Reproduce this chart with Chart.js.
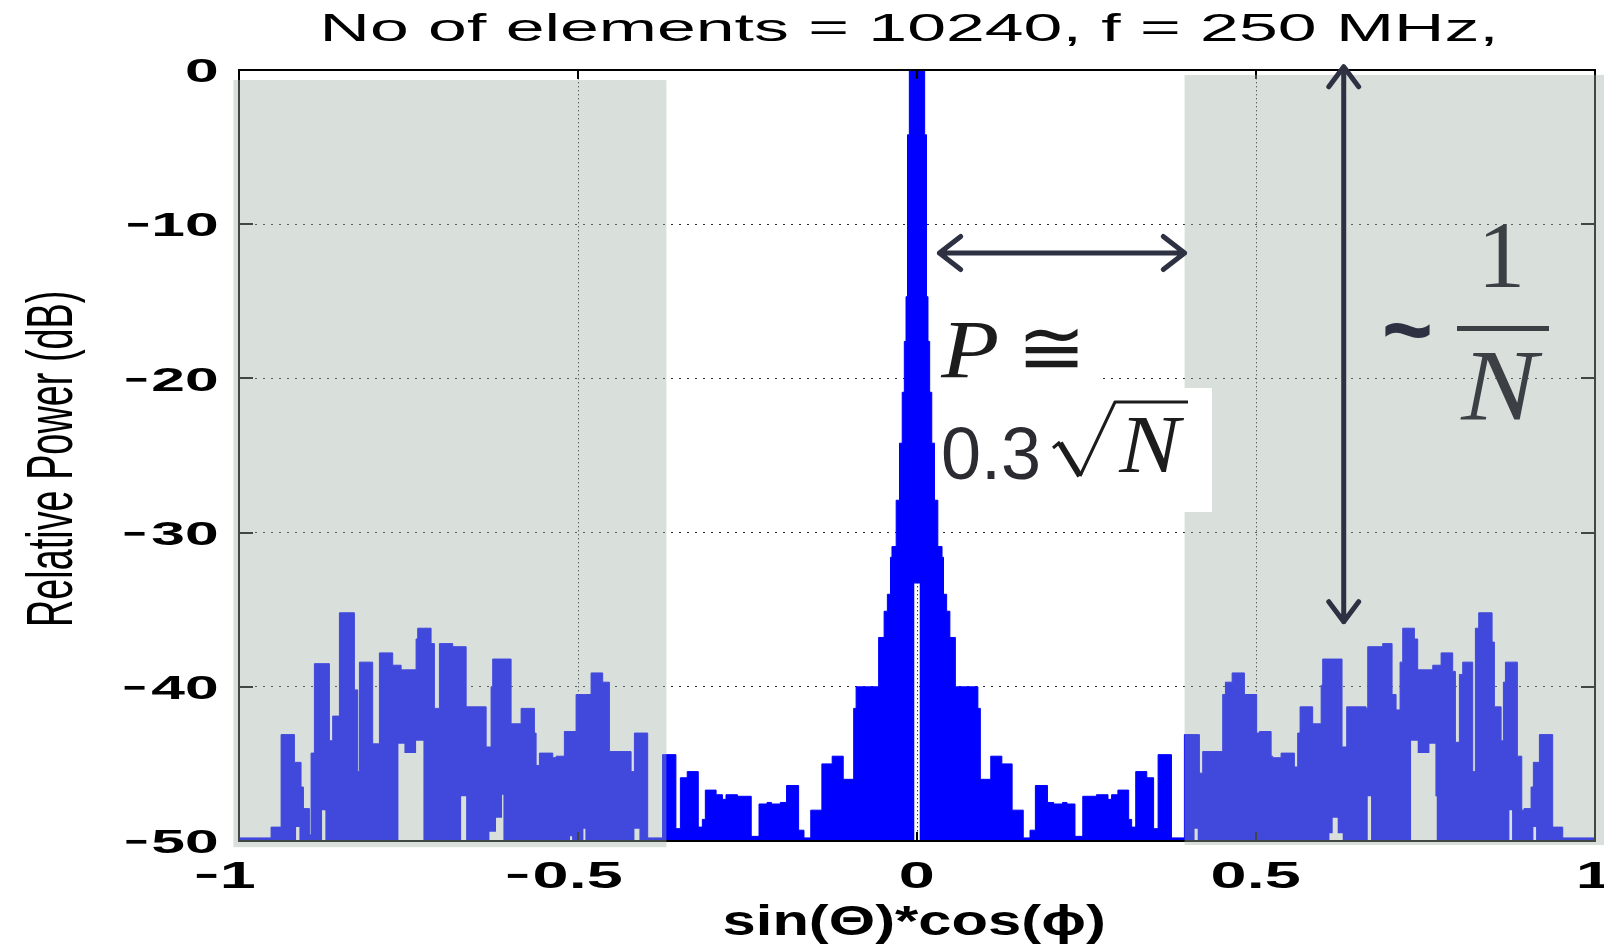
<!DOCTYPE html>
<html>
<head>
<meta charset="utf-8">
<title>Array pattern</title>
<script src="https://cdn.jsdelivr.net/npm/chart.js@4.4.1/dist/chart.umd.min.js"></script>
<style>
  html, body { margin: 0; padding: 0; background: #fff; }
  canvas { display: block; }
</style>
</head>
<body>
<canvas id="pattern" width="1604" height="946"></canvas>
<script>
// Each step starts at x = sin(theta)*cos(phi) and holds its band
// (top and floor, in dB) until the next step.
const leftX = [-1.0, -0.9527, -0.9379, -0.9183, -0.9158, -0.9109, -0.9085, -0.9050, -0.8962, -0.8937,
  -0.8888, -0.8775, -0.8726, -0.8667, -0.8618, -0.8519, -0.8298, -0.8249, -0.8224, -0.8028,
  -0.7929, -0.7733, -0.7649, -0.7609, -0.7560, -0.7388, -0.7364, -0.7280, -0.7167, -0.7118,
  -0.7044, -0.6848, -0.6724, -0.6650, -0.6355, -0.6307, -0.6282, -0.6258, -0.6209, -0.6120,
  -0.6100, -0.5987, -0.5839, -0.5643, -0.5618, -0.5569, -0.5372, -0.5323, -0.5201, -0.5117,
  -0.5087, -0.5028, -0.4920, -0.4891, -0.4807, -0.4636, -0.4537, -0.4217, -0.4168, -0.4094];
const leftTop = [-49.8, -49.1, -43.1, -44.9, -44.9, -44.9, -46.5, -47.9, -49.6, -44.3,
  -38.5, -38.5, -38.5, -43.5, -41.9, -35.2, -40.2, -45.5, -38.4, -43.7,
  -37.8, -38.6, -38.6, -38.9, -38.9, -36.9, -36.2, -36.2, -37.2, -41.4,
  -37.2, -37.4, -37.4, -41.3, -43.9, -43.9, -40.0, -38.2, -38.2, -38.2,
  -38.2, -42.4, -41.4, -43.0, -45.1, -44.3, -44.6, -44.5, -42.9, -42.9,
  -42.9, -40.5, -40.5, -40.5, -39.1, -39.7, -44.2, -45.5, -43.0, -43.0];
const leftFloor = [-50, -50, -50, -50, -49.1, -50, -50, -50, -50, -50,
  -50, -48.0, -50, -50, -50, -50, -50, -50, -50, -50,
  -50, -50, -43.7, -43.7, -44.3, -43.5, -43.5, -50, -50, -50,
  -50, -50, -47.1, -50, -50, -49.4, -49.4, -49.4, -48.5, -47.0,
  -50, -50, -50, -50, -50, -50, -50, -50, -50, -49.7,
  -50, -50, -49.2, -50, -50, -50, -50, -50, -49.2, -50];

const mainX = [-0.3972, -0.3753, -0.3556, -0.3490, -0.3389, -0.3226, -0.3166, -0.3122, -0.2963, -0.2870,
  -0.2817, -0.2648, -0.2445, -0.2330, -0.2212, -0.2147, -0.2016, -0.1924, -0.1746, -0.1667,
  -0.1567, -0.1403, -0.1251, -0.1088, -0.0934, -0.0898, -0.0566, -0.0485, -0.0437, -0.0391,
  -0.0369, -0.0307, -0.0258, -0.0218, -0.0187, -0.0162, -0.0140, -0.0113, -0.0040, 0.0040,
  0.0113, 0.0140, 0.0162, 0.0187, 0.0218, 0.0258, 0.0307, 0.0369, 0.0391, 0.0437,
  0.0485, 0.0566, 0.0898, 0.0934, 0.1088, 0.1251, 0.1403, 0.1567, 0.1667, 0.1746,
  0.1924, 0.2016, 0.2147, 0.2212, 0.2330, 0.2445, 0.2648, 0.2817, 0.2870, 0.2963,
  0.3122, 0.3166, 0.3226, 0.3389, 0.3490, 0.3556, 0.3753];
const mainTop = [-49.8, -44.4, -49.2, -45.9, -45.5, -49.1, -48.6, -46.7, -47.0, -47.3,
  -47.0, -47.1, -49.7, -47.6, -47.5, -47.6, -47.5, -46.4, -49.3, -49.8,
  -48.0, -45.0, -44.5, -46.0, -41.4, -40.0, -36.8, -35.1, -34.0, -31.6,
  -30.9, -27.9, -24.2, -20.9, -17.6, -14.7, -4.2, 0, 0, 0,
  -4.2, -14.7, -17.6, -20.9, -24.2, -27.9, -30.9, -31.6, -34.0, -35.1,
  -36.8, -40.0, -41.4, -46.0, -44.5, -45.0, -48.0, -49.8, -49.3, -46.4,
  -47.5, -47.6, -47.5, -47.6, -49.7, -47.1, -47.0, -47.3, -47.0, -46.7,
  -48.6, -49.1, -45.5, -45.9, -49.2, -44.4, -49.8];
const mainFloor = [-50, -50, -50, -50, -50, -50, -50, -50, -50, -50,
  -50, -50, -50, -50, -50, -50, -50, -50, -50, -50,
  -50, -50, -50, -50, -50, -50, -50, -50, -50, -50,
  -50, -50, -50, -50, -50, -50, -50, -50, -33.3, -50,
  -50, -50, -50, -50, -50, -50, -50, -50, -50, -50,
  -50, -50, -50, -50, -50, -50, -50, -50, -50, -50,
  -50, -50, -50, -50, -50, -50, -50, -50, -50, -50,
  -50, -50, -50, -50, -50, -50, -50];

const rightX = [0.3944, 0.4094, 0.4140, 0.4165, 0.4214, 0.4509, 0.4549, 0.4648, 0.4829, 0.5010,
  0.5050, 0.5223, 0.5246, 0.5370, 0.5566, 0.5615, 0.5650, 0.5836, 0.5961, 0.5984,
  0.6083, 0.6131, 0.6205, 0.6269, 0.6279, 0.6338, 0.6624, 0.6648, 0.6697, 0.6869,
  0.7007, 0.7066, 0.7125, 0.7164, 0.7287, 0.7336, 0.7385, 0.7558, 0.7607, 0.7646,
  0.7666, 0.7730, 0.7901, 0.7941, 0.8000, 0.8049, 0.8196, 0.8236, 0.8285, 0.8482,
  0.8516, 0.8615, 0.8649, 0.8679, 0.8737, 0.8777, 0.8855, 0.8920, 0.8953, 0.9057,
  0.9091, 0.9131, 0.9180, 0.9376, 0.9524, 1.0];
const rightTop = [-43.1, -43.1, -43.1, -45.6, -44.2, -40.5, -39.7, -39.1, -40.5, -43.0,
  -42.9, -44.5, -44.6, -44.3, -45.2, -43.0, -41.3, -42.4, -39.9, -38.2,
  -38.2, -38.2, -38.2, -43.9, -43.9, -41.3, -41.4, -37.4, -37.4, -37.2,
  -40.5, -41.5, -38.4, -36.2, -36.2, -36.9, -38.9, -38.9, -38.6, -38.6,
  -38.6, -37.8, -39.0, -43.6, -39.2, -38.4, -45.5, -36.2, -35.2, -37.1,
  -41.3, -43.5, -39.7, -38.4, -38.4, -38.4, -44.5, -48.0, -47.9, -46.5,
  -44.9, -44.9, -43.1, -49.1, -49.8, -49.8];
const rightFloor = [-50, -49.2, -50, -50, -50, -50, -50, -50, -50, -50,
  -50, -50, -50, -50, -50, -50, -50, -50, -50, -50,
  -49.5, -48.5, -49.5, -49.5, -50, -50, -50, -47.1, -50, -50,
  -50, -50, -50, -50, -43.5, -43.5, -44.3, -43.7, -43.7, -47.1,
  -50, -50, -50, -50, -50, -50, -50, -50, -50, -50,
  -50, -50, -50, -50, -48.0, -50, -50, -50, -50, -50,
  -49.1, -50, -50, -50, -50, -50];

const xTickValues = [-1, -0.5, 0, 0.5, 1];
const yTickValues = [-50, -40, -30, -20, -10, 0];
const titleText = 'No of elements = 10240, f = 250 MHz,';
const xTitle = 'sin(\u0398)*cos(\u03d5)';
const yTitle = 'Relative Power (dB)';

const stepX = leftX.concat(mainX, rightX);
const topDb = leftTop.concat(mainTop, rightTop);
const floorDb = leftFloor.concat(mainFloor, rightFloor);

const SANS = '"Liberation Sans", Arial, Helvetica, sans-serif';
const SERIF = '"Liberation Serif", "Times New Roman", serif';
const BLUE = '#0000ff';
const ARROW = '#2d3142';

// ---- text helpers: MATLAB text in this figure is stretched sideways ----
function ink(ctx, text) {
  const m = ctx.measureText(text);
  return { l: m.actualBoundingBoxLeft, r: m.actualBoundingBoxRight,
           a: m.actualBoundingBoxAscent, d: m.actualBoundingBoxDescent };
}

function stretchText(ctx, text, font, sx, x, y, align) {
  ctx.save();
  ctx.font = font;
  ctx.textAlign = 'left';
  ctx.textBaseline = 'alphabetic';
  const k = ink(ctx, text);
  const w = (k.l + k.r) * sx;
  const left = align === 'right' ? x - w : align === 'center' ? x - w / 2 : x;
  ctx.translate(left + k.l * sx, y);
  ctx.scale(sx, 1);
  ctx.fillText(text, 0, 0);
  ctx.restore();
  return left;
}

function fitWidth(ctx, text, font, x0, x1, y) {
  ctx.save();
  ctx.font = font;
  const k = ink(ctx, text);
  ctx.restore();
  return stretchText(ctx, text, font, (x1 - x0) / (k.l + k.r), x0, y, 'left');
}

function boxText(ctx, text, font, x0, y0, x1, y1) {
  ctx.save();
  ctx.font = font;
  ctx.textAlign = 'left';
  ctx.textBaseline = 'alphabetic';
  const k = ink(ctx, text);
  const sx = (x1 - x0) / (k.l + k.r);
  const sy = (y1 - y0) / (k.a + k.d);
  ctx.translate(x0 + k.l * sx, y0 + k.a * sy);
  ctx.scale(sx, sy);
  ctx.fillText(text, 0, 0);
  ctx.restore();
}

function tickLabel(ctx, value, font, sx, x, y, align) {
  const left = stretchText(ctx, String(Math.abs(value)), font, sx, x, y, align);
  if (value < 0) fitWidth(ctx, '\u2212', font, left - 27, left - 6, y);
}

function arrow(ctx, x1, y1, x2, y2, head, spread) {
  const ang = Math.atan2(y2 - y1, x2 - x1);
  ctx.beginPath();
  ctx.moveTo(x1, y1);
  ctx.lineTo(x2, y2);
  for (const [tx, ty, a] of [[x1, y1, ang], [x2, y2, ang + Math.PI]]) {
    ctx.moveTo(tx + head * Math.cos(a + spread), ty + head * Math.sin(a + spread));
    ctx.lineTo(tx, ty);
    ctx.lineTo(tx + head * Math.cos(a - spread), ty + head * Math.sin(a - spread));
  }
  ctx.stroke();
}

const figure = {
  id: 'figure',
  beforeDraw(chart) {
    const ctx = chart.ctx;
    ctx.save();
    ctx.fillStyle = '#fff';
    ctx.fillRect(0, 0, chart.width, chart.height);
    ctx.restore();
  },
  afterDatasetsDraw(chart) {
    // MATLAB box with inward ticks on all four sides
    const ctx = chart.ctx;
    const { left, right, top, bottom } = chart.chartArea;
    const xs = chart.scales.x, ys = chart.scales.y;
    ctx.save();
    ctx.strokeStyle = '#000';
    ctx.lineWidth = 2;
    ctx.strokeRect(left, top, right - left, bottom - top);
    ctx.beginPath();
    for (const v of yTickValues) {
      const py = Math.round(ys.getPixelForValue(v));
      ctx.moveTo(left, py); ctx.lineTo(left + 14, py);
      ctx.moveTo(right, py); ctx.lineTo(right - 14, py);
    }
    for (const v of xTickValues) {
      const px = Math.round(xs.getPixelForValue(v));
      ctx.moveTo(px, bottom); ctx.lineTo(px, bottom - 9);
      ctx.moveTo(px, top); ctx.lineTo(px, top + 9);
    }
    ctx.stroke();
    ctx.restore();
  },
  afterDraw(chart) {
    const ctx = chart.ctx;
    const xs = chart.scales.x, ys = chart.scales.y;
    const X = v => xs.getPixelForValue(v);
    const Y = v => ys.getPixelForValue(v);
    ctx.save();

    // shaded grating-lobe regions laid over the plot
    ctx.fillStyle = 'rgba(161,178,168,0.404)';
    ctx.fillRect(X(-1.0083), Y(-0.65), X(-0.3696) - X(-1.0083), Y(-50.4) - Y(-0.65));
    ctx.fillRect(X(0.3947), Y(-0.32), chart.width - X(0.3947), Y(-50.26) - Y(-0.32));

    // white boxes behind the equation
    ctx.fillStyle = '#fff';
    ctx.fillRect(934, 290, 168, 100);
    ctx.fillRect(944, 388, 268, 124);

    // arrows
    ctx.strokeStyle = ARROW;
    ctx.lineWidth = 5;
    ctx.lineCap = 'round';
    ctx.lineJoin = 'round';
    arrow(ctx, X(0.033), Y(-11.87), X(0.3947), Y(-11.87), 27, 0.66);
    arrow(ctx, X(0.6294), Y(0.21), X(0.6294), Y(-35.78), 25, 0.64);

    // P ≅ 0.3 √N
    ctx.fillStyle = '#1c1c1c';
    boxText(ctx, 'P', 'italic 80px ' + SERIF, 940, 322, 997, 377);
    boxText(ctx, '\u2245', '70px "DejaVu Serif", serif', 1025, 328, 1078, 367);
    ctx.fillStyle = '#2b2b31';
    boxText(ctx, '0.3', '74px ' + SANS, 943, 427, 1038, 480);
    ctx.fillStyle = '#1c1c1c';
    boxText(ctx, 'N', 'italic 80px ' + SERIF, 1118, 417, 1185, 472);
    ctx.strokeStyle = '#1c1c1c';
    ctx.lineCap = 'butt';
    ctx.lineWidth = 3;
    ctx.beginPath();
    ctx.moveTo(1053, 448); ctx.lineTo(1060, 442);
    ctx.moveTo(1080, 476); ctx.lineTo(1115, 402); ctx.lineTo(1188, 402);
    ctx.stroke();
    ctx.lineWidth = 6;
    ctx.beginPath();
    ctx.moveTo(1060, 443); ctx.lineTo(1080, 476);
    ctx.stroke();

    // ~ 1/N
    ctx.fillStyle = ARROW;
    boxText(ctx, '~', 'bold 60px ' + SANS, 1385, 322, 1430, 338);
    ctx.fillStyle = '#3c3f44';
    ctx.fillRect(1457, 326, 92, 5);
    boxText(ctx, '1', '90px ' + SERIF, 1485, 223, 1520, 287);
    boxText(ctx, 'N', 'italic 96px ' + SERIF, 1460, 353, 1543, 420);

    // MATLAB title, tick labels and axis labels
    ctx.fillStyle = '#000';
    fitWidth(ctx, titleText, '38px ' + SANS, 325, 1494, 41);
    const yFont = 'bold 34px ' + SANS;
    for (const v of yTickValues) {
      tickLabel(ctx, v, yFont, 1.78, 217, Y(v) + 0.358 * 34, 'right');
    }
    const xFont = 'bold 37px ' + SANS;
    for (const v of xTickValues) {
      tickLabel(ctx, v, xFont, 1.75, X(v), 888, 'center');
    }
    fitWidth(ctx, xTitle, 'bold 42px ' + SANS, 724, 1103, 935);

    ctx.save();
    ctx.font = '37px ' + SANS;
    const k = ink(ctx, yTitle);
    const along = (624 - 292) / (k.l + k.r);
    ctx.translate(72, 0);
    ctx.rotate(-Math.PI / 2);
    ctx.translate(-624 + k.l * along, 0);
    ctx.scale(along, 1.75);
    ctx.textAlign = 'left';
    ctx.textBaseline = 'alphabetic';
    ctx.fillText(yTitle, 0, 0);
    ctx.restore();

    ctx.restore();
  }
};

new Chart(document.getElementById('pattern'), {
  type: 'line',
  data: {
    datasets: [
      {
        label: 'pattern',
        data: stepX.map((x, i) => ({ x: x, y: topDb[i] })),
        stepped: true,
        borderColor: BLUE,
        backgroundColor: BLUE,
        borderWidth: 1,
        pointRadius: 0,
        fill: '+1'
      },
      {
        label: 'floor',
        data: stepX.map((x, i) => ({ x: x, y: floorDb[i] })),
        stepped: true,
        borderWidth: 0,
        pointRadius: 0,
        fill: false
      }
    ]
  },
  options: {
    responsive: false,
    animation: false,
    devicePixelRatio: 1,
    layout: { padding: { top: 70, right: 9, left: 0, bottom: 0 } },
    plugins: {
      legend: { display: false },
      tooltip: { enabled: false },
      title: { display: false }
    },
    scales: {
      x: {
        type: 'linear',
        min: -1,
        max: 1,
        afterBuildTicks: s => { s.ticks = xTickValues.map(v => ({ value: v })); },
        afterFit: s => { s.height = 105; },
        ticks: { display: false },
        grid: { color: '#2a2a2a', lineWidth: 1, drawTicks: false },
        border: { display: false, dash: [1.4, 2.6] }
      },
      y: {
        type: 'linear',
        min: -50,
        max: 0,
        afterBuildTicks: s => { s.ticks = yTickValues.map(v => ({ value: v })); },
        afterFit: s => { s.width = 239; },
        ticks: { display: false },
        grid: { color: '#2a2a2a', lineWidth: 1, drawTicks: false },
        border: { display: false, dash: [2, 6] }
      }
    }
  },
  plugins: [figure]
});
</script>
</body>
</html>
